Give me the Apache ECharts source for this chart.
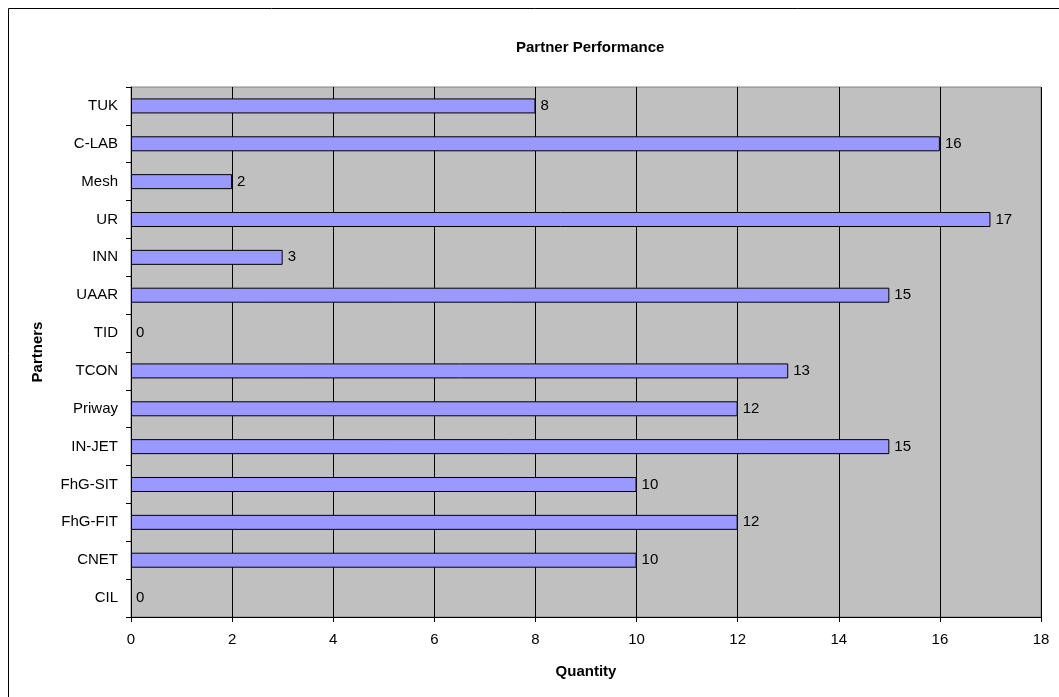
<!DOCTYPE html>
<html>
<head>
<meta charset="utf-8">
<script src="https://cdn.jsdelivr.net/npm/echarts@6/dist/echarts.min.js"></script>
<style>
    html, body { margin: 0; padding: 0; background: #fff; }
    #chart { width: 1059px; height: 697px; }
</style>
</head>
<body>
<div id="chart"></div>
<script>
    // categories from bottom to top
    const partners = ['CIL', 'CNET', 'FhG-FIT', 'FhG-SIT', 'IN-JET', 'Priway', 'TCON', 'TID', 'UAAR', 'INN', 'UR', 'Mesh', 'C-LAB', 'TUK']
    const quantity = [0, 10, 12, 10, 15, 12, 13, 0, 15, 3, 17, 2, 16, 8]

    const font = 'Liberation Sans, Arial, sans-serif'
    const mChart = echarts.init(document.getElementById('chart'))
    const option = {
        animation: false,
        title: {
            text: 'Partner Performance',
            left: 511,
            top: 35,
            textStyle: { fontFamily: font, fontSize: 15, fontWeight: 'bold', color: '#000' }
        },
        grid: {
            left: 131,
            right: 18,
            top: 87,
            bottom: 80,
            show: true,
            backgroundColor: '#C0C0C0',
            borderColor: '#808080',
            borderWidth: 1
        },
        // x 轴
        xAxis: {
            type: 'value',
            min: 0,
            max: 18,
            interval: 2,
            name: 'Quantity',
            nameLocation: 'middle',
            nameGap: 47,
            nameTextStyle: { fontFamily: font, fontSize: 15, fontWeight: 'bold', color: '#000' },
            axisLine: { show: true, lineStyle: { color: '#000' } },
            axisTick: { show: true, length: 5, lineStyle: { color: '#000' } },
            axisLabel: { color: '#000', fontFamily: font, fontSize: 15, margin: 15 },
            splitLine: { show: true, lineStyle: { color: '#000', width: 1 } }
        },
        // y 轴
        yAxis: {
            type: 'category',
            data: partners,
            name: 'Partners',
            nameLocation: 'middle',
            nameGap: 86,
            nameRotate: 90,
            nameTextStyle: { fontFamily: font, fontSize: 15, fontWeight: 'bold', color: '#000' },
            axisLine: { show: true, lineStyle: { color: '#000' } },
            axisTick: { show: true, length: 5, lineStyle: { color: '#000' } },
            axisLabel: { color: '#000', fontFamily: font, fontSize: 15, margin: 13 },
            splitLine: { show: false }
        },
        series: [{
            name: 'Quantity',
            type: 'bar',
            barWidth: 15,
            itemStyle: { color: '#9999FF', borderColor: '#000', borderWidth: 1 },
            label: {
                show: true,
                position: 'right',
                distance: 5,
                color: '#000',
                fontFamily: font,
                fontSize: 15
            },
            // zero bars draw no outline
            data: quantity.map(v => v === 0 ? { value: v, itemStyle: { borderWidth: 0 } } : v)
        }],
        graphic: [{
            type: 'rect',
            silent: true,
            shape: { x: 8.5, y: 8.5, width: 1100, height: 800 },
            style: { fill: 'none', stroke: '#000', lineWidth: 1 }
        }]
    }
    mChart.setOption(option)
</script>
</body>
</html>
